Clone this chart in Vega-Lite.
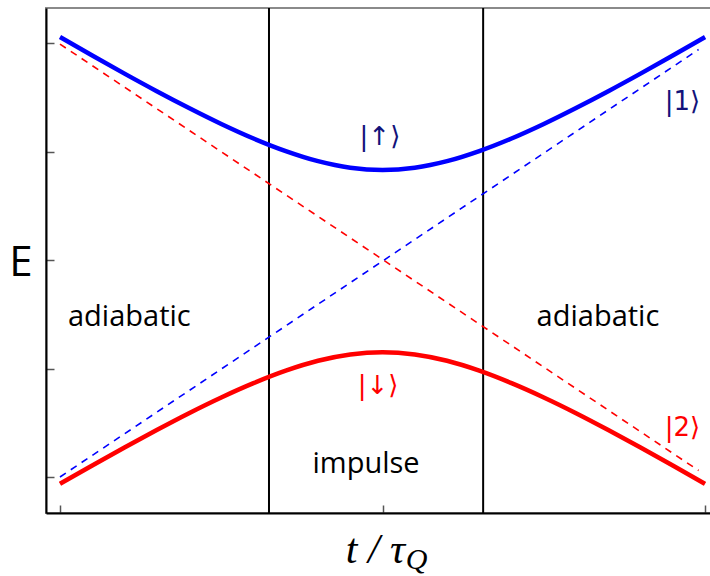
{
  "$schema": "https://vega.github.io/schema/vega-lite/v6.json",
  "width": 670,
  "height": 505,
  "autosize": {"type": "none"},
  "padding": {"left": 46, "top": 8, "right": 0, "bottom": 63},
  "background": "white",
  "config": {
    "view": {"stroke": "#8a8a8a", "strokeWidth": 2},
    "axis": {
      "grid": false,
      "labels": false,
      "title": null,
      "domainColor": "#000000",
      "domainWidth": 2,
      "tickColor": "#555555",
      "tickWidth": 1.5,
      "tickSize": -8
    }
  },
  "datasets": {
    "adiabatic": [
      {"t": -1.0, "E": 2.055, "branch": "upper"},
      {"t": -0.9, "E": 1.885, "branch": "upper"},
      {"t": -0.8, "E": 1.718, "branch": "upper"},
      {"t": -0.7, "E": 1.556, "branch": "upper"},
      {"t": -0.6, "E": 1.401, "branch": "upper"},
      {"t": -0.5, "E": 1.254, "branch": "upper"},
      {"t": -0.4, "E": 1.12, "branch": "upper"},
      {"t": -0.3, "E": 1.004, "branch": "upper"},
      {"t": -0.2, "E": 0.911, "branch": "upper"},
      {"t": -0.1, "E": 0.851, "branch": "upper"},
      {"t": 0.0, "E": 0.83, "branch": "upper"},
      {"t": 0.1, "E": 0.851, "branch": "upper"},
      {"t": 0.2, "E": 0.911, "branch": "upper"},
      {"t": 0.3, "E": 1.004, "branch": "upper"},
      {"t": 0.4, "E": 1.12, "branch": "upper"},
      {"t": 0.5, "E": 1.254, "branch": "upper"},
      {"t": 0.6, "E": 1.401, "branch": "upper"},
      {"t": 0.7, "E": 1.556, "branch": "upper"},
      {"t": 0.8, "E": 1.718, "branch": "upper"},
      {"t": 0.9, "E": 1.885, "branch": "upper"},
      {"t": 1.0, "E": 2.055, "branch": "upper"},
      {"t": -1.0, "E": -2.063, "branch": "lower"},
      {"t": -0.9, "E": -1.894, "branch": "lower"},
      {"t": -0.8, "E": -1.728, "branch": "lower"},
      {"t": -0.7, "E": -1.567, "branch": "lower"},
      {"t": -0.6, "E": -1.412, "branch": "lower"},
      {"t": -0.5, "E": -1.267, "branch": "lower"},
      {"t": -0.4, "E": -1.135, "branch": "lower"},
      {"t": -0.3, "E": -1.02, "branch": "lower"},
      {"t": -0.2, "E": -0.929, "branch": "lower"},
      {"t": -0.1, "E": -0.871, "branch": "lower"},
      {"t": 0.0, "E": -0.85, "branch": "lower"},
      {"t": 0.1, "E": -0.871, "branch": "lower"},
      {"t": 0.2, "E": -0.929, "branch": "lower"},
      {"t": 0.3, "E": -1.02, "branch": "lower"},
      {"t": 0.4, "E": -1.135, "branch": "lower"},
      {"t": 0.5, "E": -1.267, "branch": "lower"},
      {"t": 0.6, "E": -1.412, "branch": "lower"},
      {"t": 0.7, "E": -1.567, "branch": "lower"},
      {"t": 0.8, "E": -1.728, "branch": "lower"},
      {"t": 0.9, "E": -1.894, "branch": "lower"},
      {"t": 1.0, "E": -2.063, "branch": "lower"}
    ],
    "diabatic": [
      {"t": -1.0, "E": 1.99, "branch": "lower"},
      {"t": 0.98, "E": -1.94, "branch": "lower"},
      {"t": -1.0, "E": -2.0, "branch": "upper"},
      {"t": 0.98, "E": 1.94, "branch": "upper"}
    ],
    "boundaries": [
      {"t": -0.352},
      {"t": 0.312}
    ],
    "regions": [
      {"t": -0.785, "E": -0.608, "text": "adiabatic"},
      {"t": 0.668, "E": -0.608, "text": "adiabatic"},
      {"t": -0.051, "E": -1.963, "text": "impulse"}
    ],
    "kets": [
      {"t": -0.008, "E": 1.06, "text": "|↑⟩", "branch": "upperLabel"},
      {"t": 0.93, "E": 1.38, "text": "|1⟩", "branch": "upperLabel"},
      {"t": -0.014, "E": -1.235, "text": "|↓⟩", "branch": "lowerLabel"},
      {"t": 0.93, "E": -1.62, "text": "|2⟩", "branch": "lowerLabel"}
    ]
  },
  "layer": [
    {
      "data": {"name": "boundaries"},
      "mark": {"type": "rule", "color": "#000000", "strokeWidth": 2},
      "encoding": {
        "x": {
          "field": "t",
          "type": "quantitative",
          "scale": {"domain": [-1.0434, 1.034], "nice": false, "zero": false},
          "axis": {"values": [-1, 0, 1]}
        }
      }
    },
    {
      "data": {"name": "diabatic"},
      "mark": {"type": "line", "strokeWidth": 1.6, "strokeDash": [7, 6], "clip": true},
      "encoding": {
        "x": {"field": "t", "type": "quantitative"},
        "y": {
          "field": "E",
          "type": "quantitative",
          "scale": {"domain": [-2.3318, 2.3226], "nice": false, "zero": false},
          "axis": {"values": [-2, -1, 0, 1, 2]}
        },
        "detail": {"field": "branch"},
        "color": {
          "field": "branch",
          "type": "nominal",
          "scale": {
            "domain": ["upper", "lower", "upperLabel", "lowerLabel"],
            "range": ["#0000ff", "#ff0000", "#12127a", "#ff0000"]
          },
          "legend": null
        }
      }
    },
    {
      "data": {"name": "adiabatic"},
      "mark": {"type": "line", "strokeWidth": 4.5, "interpolate": "monotone", "strokeCap": "butt"},
      "encoding": {
        "x": {"field": "t", "type": "quantitative"},
        "y": {"field": "E", "type": "quantitative"},
        "detail": {"field": "branch"},
        "color": {"field": "branch", "type": "nominal", "legend": null}
      }
    },
    {
      "data": {"name": "regions"},
      "mark": {"type": "text", "font": "Open Sans", "fontSize": 29, "align": "center", "baseline": "alphabetic", "color": "#000000"},
      "encoding": {
        "x": {"field": "t", "type": "quantitative"},
        "y": {"field": "E", "type": "quantitative"},
        "text": {"field": "text"}
      }
    },
    {
      "data": {"name": "kets"},
      "mark": {"type": "text", "font": "DejaVu Sans", "fontSize": 26, "align": "center", "baseline": "alphabetic"},
      "encoding": {
        "x": {"field": "t", "type": "quantitative"},
        "y": {"field": "E", "type": "quantitative"},
        "text": {"field": "text"},
        "color": {"field": "branch", "type": "nominal", "legend": null}
      }
    },
    {
      "data": {"values": [{"t": -1.121, "E": -0.147, "text": "E"}]},
      "mark": {"type": "text", "font": "Open Sans", "fontSize": 42, "align": "center", "baseline": "alphabetic", "color": "#000000"},
      "encoding": {
        "x": {"field": "t", "type": "quantitative"},
        "y": {"field": "E", "type": "quantitative"},
        "text": {"field": "text"}
      }
    },
    {
      "data": {"values": [{"t": 0.07, "E": -2.793, "text": "t / τ"}]},
      "mark": {"type": "text", "font": "Liberation Serif", "fontStyle": "italic", "fontSize": 42, "align": "right", "baseline": "alphabetic", "color": "#000000"},
      "encoding": {
        "x": {"field": "t", "type": "quantitative"},
        "y": {"field": "E", "type": "quantitative"},
        "text": {"field": "text"}
      }
    },
    {
      "data": {"values": [{"t": 0.072, "E": -2.85, "text": "Q"}]},
      "mark": {"type": "text", "font": "Liberation Serif", "fontStyle": "italic", "fontSize": 30, "align": "left", "baseline": "alphabetic", "color": "#000000"},
      "encoding": {
        "x": {"field": "t", "type": "quantitative"},
        "y": {"field": "E", "type": "quantitative"},
        "text": {"field": "text"}
      }
    }
  ]
}
